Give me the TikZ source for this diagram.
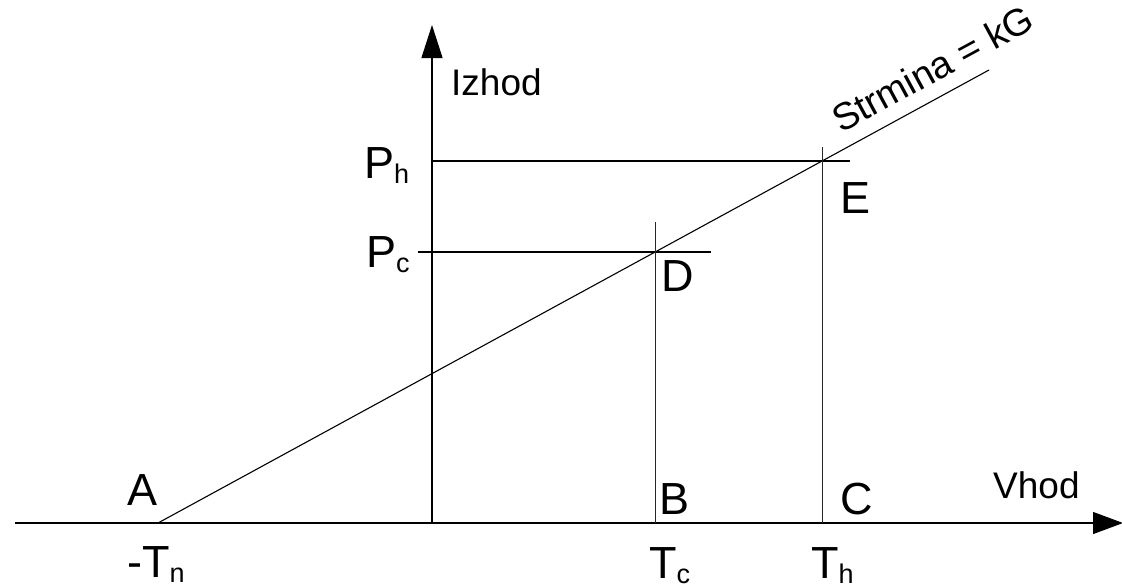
\documentclass[tikz,border=0pt]{standalone}
\usepackage{fontspec}
\setmainfont{Liberation Sans}
\usetikzlibrary{arrows.meta}
\newcommand{\lsub}[1]{{\fontsize{27}{27}\selectfont\raisebox{-5pt}{#1}}}
\begin{document}
\begin{tikzpicture}[x=1pt,y=-1pt,
  ln/.style={line width=1.1pt,black},
  thin ln/.style={line width=0.9pt,black!85},
  big/.style={inner sep=0pt,anchor=base west,font=\fontsize{45}{45}\selectfont},
  mid/.style={inner sep=0pt,anchor=base west,font=\fontsize{37}{37}\selectfont},
  axarrow/.style={-{Triangle[length=33pt,width=21pt]}}]
\useasboundingbox (0,0) rectangle (1122,587);
% coordinates
\coordinate (xs) at (15,523);
\coordinate (xe) at (1123,523);
\coordinate (O) at (432,523);
\coordinate (ye) at (432,25);
\coordinate (A) at (158,523);
\coordinate (S) at (989,70);
\coordinate (PhL) at (432,161);
\coordinate (PhR) at (850,161);
\coordinate (PcL) at (418,252);
\coordinate (PcR) at (711,252);
\coordinate (Bb) at (655,523);
\coordinate (Bt) at (655,222);
\coordinate (Cb) at (822,523);
\coordinate (Ct) at (822,147);
% axes
\draw[ln,-{Triangle[length=30pt,width=22pt]}] (xs) -- (xe);
\draw[ln,axarrow] (O) -- (ye);
% slope line
\draw[ln] (A) -- (S);
% guide lines
\draw[ln] (PhL) -- (PhR);
\draw[ln] (PcL) -- (PcR);
\draw[thin ln] (Bb) -- (Bt);
\draw[thin ln] (Cb) -- (Ct);
% labels
\node[big] (lA) at (127,505) {A};
\node[big] (lB) at (659,514) {B};
\node[big] (lC) at (840,514) {C};
\node[big] (lD) at (661,291) {D};
\node[big] (lE) at (840,213) {E};
\node[big] (lPh) at (364,178) {P\lsub{h}};
\node[big] (lPc) at (366,267) {P\lsub{c}};
\node[big] (lTn) at (127,577) {-T\lsub{n}};
\node[big] (lTc) at (649,578) {T\lsub{c}};
\node[big] (lTh) at (811,578) {T\lsub{h}};
\node[mid] (lIz) at (451,95) {Izhod};
\node[mid] (lVh) at (993,498) {Vhod};
\node[inner sep=0pt,anchor=base west,font=\fontsize{38}{38}\selectfont,rotate=28.5] (lSt) at (841,134) {Strmina = kG};
\end{tikzpicture}
\end{document}
